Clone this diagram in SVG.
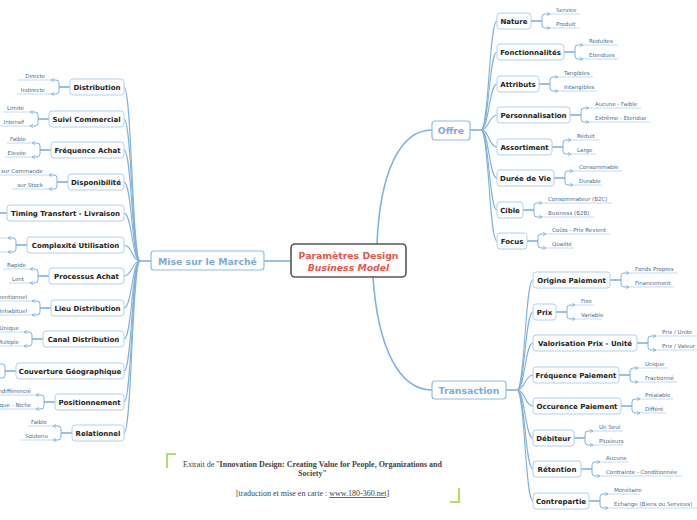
<svg xmlns="http://www.w3.org/2000/svg" width="697" height="520" viewBox="0 0 697 520">
<style>
.bg{fill:#fff}
.ln{fill:none;stroke:#80b1dc;stroke-width:1.1}
.tr{fill:none;stroke:#80b1dc;stroke-width:1.6}
.ul{fill:none;stroke:#bcd6ee;stroke-width:0.9}
.sc{fill:none;stroke:#80b1dc;stroke-width:1}
.box{fill:#fff;stroke:#b3d0ec;stroke-width:1}
.mbox{fill:#fff;stroke:#8fbbe3;stroke-width:1.2}
.cbox{fill:#fff;stroke:#555;stroke-width:1.6}
.t{font-family:"DejaVu Sans",Verdana,sans-serif;font-size:7px;font-weight:bold;fill:#222;text-anchor:middle}
.mt{font-family:"DejaVu Sans",Verdana,sans-serif;font-size:9.3px;font-weight:bold;fill:#7eaad7;text-anchor:middle}
.ct{font-family:"DejaVu Sans",Verdana,sans-serif;font-size:9.3px;font-weight:bold;fill:#e8564a;text-anchor:middle}
.s{font-family:"DejaVu Sans",Verdana,sans-serif;font-size:5.5px;fill:#4a6a8a}
.e{text-anchor:end}
.ft{font-family:"Liberation Serif","Times New Roman",serif;font-size:8px;fill:#444;text-anchor:middle}
.gc{fill:none;stroke:#b2dc6e;stroke-width:2}
</style>
<defs>
<marker id="ar" viewBox="0 0 6 6" refX="5" refY="3" markerWidth="4" markerHeight="4" orient="auto" markerUnits="userSpaceOnUse">
<path d="M0.5,0.5 L5,3 L0.5,5.5" fill="none" stroke="#80b1dc" stroke-width="1.1"/>
</marker>
</defs>
<rect class="bg" x="0" y="0" width="697" height="520"/>

<g id="connectors">
<!-- center -->
<path class="tr" d="M264,261 H291"/>
<path class="tr" d="M377,244 C380,172 400,130 432,130"/>
<path class="tr" d="M373,277 C378,350 400,390 432,390"/>
<!-- left trunk -->
<path class="tr" d="M151,261 H140"/>
<path class="ln" d="M140,261 C132,261 132,87 124,87"/>
<path class="ln" d="M140,261 C132,261 132,119 124,119"/>
<path class="ln" d="M140,261 C132,261 132,150 124,150"/>
<path class="ln" d="M140,261 C132,261 132,182 124,182"/>
<path class="ln" d="M140,261 C132,261 132,213 124,213"/>
<path class="ln" d="M140,261 C132,261 132,245 124,245"/>
<path class="ln" d="M140,261 C132,261 132,276 124,276"/>
<path class="ln" d="M140,261 C132,261 132,308 124,308"/>
<path class="ln" d="M140,261 C132,261 132,339 124,339"/>
<path class="ln" d="M140,261 C132,261 132,371 124,371"/>
<path class="ln" d="M140,261 C132,261 132,402 124,402"/>
<path class="ln" d="M140,261 C132,261 132,433 124,433"/>
<!-- offre trunk -->
<path class="tr" d="M470,130 H481"/>
<path class="ln" d="M481,130 C489,130 489,21 497,21"/>
<path class="ln" d="M481,130 C489,130 489,52 497,52"/>
<path class="ln" d="M481,130 C489,130 489,84 497,84"/>
<path class="ln" d="M481,130 C489,130 489,115 497,115"/>
<path class="ln" d="M481,130 C489,130 489,147 497,147"/>
<path class="ln" d="M481,130 C489,130 489,178 497,178"/>
<path class="ln" d="M481,130 C489,130 489,210 497,210"/>
<path class="ln" d="M481,130 C489,130 489,241 497,241"/>
<!-- transaction trunk -->
<path class="tr" d="M506,390 H517"/>
<path class="ln" d="M517,390 C525,390 525,280 533,280"/>
<path class="ln" d="M517,390 C525,390 525,312 533,312"/>
<path class="ln" d="M517,390 C525,390 525,343 533,343"/>
<path class="ln" d="M517,390 C525,390 525,375 533,375"/>
<path class="ln" d="M517,390 C525,390 525,406 533,406"/>
<path class="ln" d="M517,390 C525,390 525,438 533,438"/>
<path class="ln" d="M517,390 C525,390 525,469 533,469"/>
<path class="ln" d="M517,390 C525,390 525,501 533,501"/>

<!-- left sub connectors -->
<path class="tr" d="M70,87 H59"/><path class="sc" marker-end="url(#ar)" d="M59,87 V83 Q59,80 56,80 H51"/><path class="sc" marker-end="url(#ar)" d="M59,87 V91 Q59,94 56,94 H51"/>
<path class="ul" d="M51,80 H18 M51,94 H17"/>
<path class="tr" d="M49,119 H38"/><path class="sc" marker-end="url(#ar)" d="M38,119 V115 Q38,112 35,112 H30"/><path class="sc" marker-end="url(#ar)" d="M38,119 V123 Q38,126 35,126 H30"/>
<path class="ul" d="M30,112 H3 M30,126 H-1"/>
<path class="tr" d="M51,150 H40"/><path class="sc" marker-end="url(#ar)" d="M40,150 V146 Q40,143 37,143 H32"/><path class="sc" marker-end="url(#ar)" d="M40,150 V154 Q40,157 37,157 H32"/>
<path class="ul" d="M32,143 H7 M32,157 H5"/>
<path class="tr" d="M68,182 H57"/><path class="sc" marker-end="url(#ar)" d="M57,182 V178 Q57,175 54,175 H49"/><path class="sc" marker-end="url(#ar)" d="M57,182 V186 Q57,189 54,189 H49"/>
<path class="ul" d="M49,175 H-4 M49,189 H12"/>
<path class="tr" d="M7,213 H-4"/>
<path class="tr" d="M27,245 H16"/><path class="sc" marker-end="url(#ar)" d="M16,245 V241 Q16,238 13,238 H8"/><path class="sc" marker-end="url(#ar)" d="M16,245 V249 Q16,252 13,252 H8"/>
<path class="ul" d="M8,238 H-10 M8,252 H-10"/>
<path class="tr" d="M49,276 H38"/><path class="sc" marker-end="url(#ar)" d="M38,276 V272 Q38,269 35,269 H30"/><path class="sc" marker-end="url(#ar)" d="M38,276 V280 Q38,283 35,283 H30"/>
<path class="ul" d="M30,269 H3 M30,283 H9"/>
<path class="tr" d="M51,308 H40"/><path class="sc" marker-end="url(#ar)" d="M40,308 V304 Q40,301 37,301 H32"/><path class="sc" marker-end="url(#ar)" d="M40,308 V312 Q40,315 37,315 H32"/>
<path class="ul" d="M32,301 H-20 M32,315 H-4"/>
<path class="tr" d="M43,339 H32"/><path class="sc" marker-end="url(#ar)" d="M32,339 V335 Q32,332 29,332 H24"/><path class="sc" marker-end="url(#ar)" d="M32,339 V343 Q32,346 29,346 H24"/>
<path class="ul" d="M24,332 H-4 M24,346 H-4"/>
<path class="tr" d="M16,371 H5"/><path class="sc" marker-end="url(#ar)" d="M5,371 V367 Q5,364 2,364 H-3"/><path class="sc" marker-end="url(#ar)" d="M5,371 V375 Q5,378 2,378 H-3"/>
<path class="tr" d="M55,402 H44"/><path class="sc" marker-end="url(#ar)" d="M44,402 V398 Q44,395 41,395 H36"/><path class="sc" marker-end="url(#ar)" d="M44,402 V406 Q44,409 41,409 H36"/>
<path class="ul" d="M36,395 H-15 M36,409 H-20"/>
<path class="tr" d="M72,433 H61"/><path class="sc" marker-end="url(#ar)" d="M61,433 V429 Q61,426 58,426 H53"/><path class="sc" marker-end="url(#ar)" d="M61,433 V437 Q61,440 58,440 H53"/>
<path class="ul" d="M53,426 H28 M53,440 H21"/>

<!-- right sub connectors: offre -->
<path class="tr" d="M531,21 H542"/><path class="sc" marker-end="url(#ar)" d="M542,21 V17 Q542,14 545,14 H550"/><path class="sc" marker-end="url(#ar)" d="M542,21 V25 Q542,28 545,28 H550"/>
<path class="ul" d="M550,14 H580 M550,28 H580"/>
<path class="tr" d="M564,52 H575"/><path class="sc" marker-end="url(#ar)" d="M575,52 V48 Q575,45 578,45 H583"/><path class="sc" marker-end="url(#ar)" d="M575,52 V56 Q575,59 578,59 H583"/>
<path class="ul" d="M583,45 H618 M583,59 H618"/>
<path class="tr" d="M539,84 H550"/><path class="sc" marker-end="url(#ar)" d="M550,84 V80 Q550,77 553,77 H558"/><path class="sc" marker-end="url(#ar)" d="M550,84 V88 Q550,91 553,91 H558"/>
<path class="ul" d="M558,77 H593 M558,91 H596"/>
<path class="tr" d="M570,115 H581"/><path class="sc" marker-end="url(#ar)" d="M581,115 V111 Q581,108 584,108 H589"/><path class="sc" marker-end="url(#ar)" d="M581,115 V119 Q581,122 584,122 H589"/>
<path class="ul" d="M589,108 H641 M589,122 H650"/>
<path class="tr" d="M552,147 H563"/><path class="sc" marker-end="url(#ar)" d="M563,147 V143 Q563,140 566,140 H571"/><path class="sc" marker-end="url(#ar)" d="M563,147 V151 Q563,154 566,154 H571"/>
<path class="ul" d="M571,140 H600 M571,154 H596"/>
<path class="tr" d="M554,178 H565"/><path class="sc" marker-end="url(#ar)" d="M565,178 V174 Q565,171 568,171 H573"/><path class="sc" marker-end="url(#ar)" d="M565,178 V182 Q565,185 568,185 H573"/>
<path class="ul" d="M573,171 H622 M573,185 H602"/>
<path class="tr" d="M523,210 H534"/><path class="sc" marker-end="url(#ar)" d="M534,210 V206 Q534,203 537,203 H542"/><path class="sc" marker-end="url(#ar)" d="M534,210 V214 Q534,217 537,217 H542"/>
<path class="ul" d="M542,203 H612 M542,217 H594"/>
<path class="tr" d="M527,241 H538"/><path class="sc" marker-end="url(#ar)" d="M538,241 V237 Q538,234 541,234 H546"/><path class="sc" marker-end="url(#ar)" d="M538,241 V245 Q538,248 541,248 H546"/>
<path class="ul" d="M546,234 H610 M546,248 H574"/>
<!-- right sub connectors: transaction -->
<path class="tr" d="M610,280 H621"/><path class="sc" marker-end="url(#ar)" d="M621,280 V276 Q621,273 624,273 H629"/><path class="sc" marker-end="url(#ar)" d="M621,280 V284 Q621,287 624,287 H629"/>
<path class="ul" d="M629,273 H677 M629,287 H674"/>
<path class="tr" d="M556,312 H567"/><path class="sc" marker-end="url(#ar)" d="M567,312 V308 Q567,305 570,305 H575"/><path class="sc" marker-end="url(#ar)" d="M567,312 V316 Q567,319 570,319 H575"/>
<path class="ul" d="M575,305 H594 M575,319 H602"/>
<path class="tr" d="M637,343 H648"/><path class="sc" marker-end="url(#ar)" d="M648,343 V339 Q648,336 651,336 H656"/><path class="sc" marker-end="url(#ar)" d="M648,343 V347 Q648,350 651,350 H656"/>
<path class="ul" d="M656,336 H697 M656,350 H700"/>
<path class="tr" d="M619,375 H630"/><path class="sc" marker-end="url(#ar)" d="M630,375 V371 Q630,368 633,368 H638"/><path class="sc" marker-end="url(#ar)" d="M630,375 V379 Q630,382 633,382 H638"/>
<path class="ul" d="M638,368 H668 M638,382 H677"/>
<path class="tr" d="M621,406 H632"/><path class="sc" marker-end="url(#ar)" d="M632,406 V402 Q632,399 635,399 H640"/><path class="sc" marker-end="url(#ar)" d="M632,406 V410 Q632,413 635,413 H640"/>
<path class="ul" d="M640,399 H673 M640,413 H666"/>
<path class="tr" d="M574,438 H585"/><path class="sc" marker-end="url(#ar)" d="M585,438 V434 Q585,431 588,431 H593"/><path class="sc" marker-end="url(#ar)" d="M585,438 V442 Q585,445 588,445 H593"/>
<path class="ul" d="M593,431 H623 M593,445 H623"/>
<path class="tr" d="M581,469 H592"/><path class="sc" marker-end="url(#ar)" d="M592,469 V465 Q592,462 595,462 H600"/><path class="sc" marker-end="url(#ar)" d="M592,469 V473 Q592,476 595,476 H600"/>
<path class="ul" d="M600,462 H628 M600,476 H682"/>
<path class="tr" d="M589,501 H600"/><path class="sc" marker-end="url(#ar)" d="M600,501 V497 Q600,494 603,494 H608"/><path class="sc" marker-end="url(#ar)" d="M600,501 V505 Q600,508 603,508 H608"/>
<path class="ul" d="M608,494 H640 M608,508 H697"/>
</g>

<g id="center"><rect class="cbox" x="291" y="244" width="115" height="33" rx="4"/><text class="ct" x="348.5" y="258.5">Paramètres Design</text><text class="ct" x="348.5" y="270.5" font-style="italic">Business Model</text></g>
<g id="mise"><rect class="mbox" x="151" y="251" width="113" height="19" rx="3"/><text class="mt" x="207.5" y="264.5">Mise sur le Marché</text></g>
<g id="offre"><rect class="mbox" x="432" y="121" width="38" height="19" rx="3"/><text class="mt" x="451" y="134">Offre</text></g>
<g id="transaction"><rect class="mbox" x="432" y="381" width="74" height="18" rx="3"/><text class="mt" x="469" y="393.5">Transaction</text></g>

<g id="distribution"><rect class="box" x="70" y="79" width="54" height="16" rx="3"/><text class="t" x="97" y="89.5">Distribution</text><text class="s e" x="45" y="78">Directe</text><text class="s e" x="45" y="92">Indirecte</text></g>
<g id="suivi"><rect class="box" x="49" y="111" width="75" height="16" rx="3"/><text class="t" x="86.5" y="121.5">Suivi Commercial</text><text class="s e" x="24" y="110">Limité</text><text class="s e" x="24" y="124">Intensif</text></g>
<g id="frequence-achat"><rect class="box" x="51" y="142" width="73" height="16" rx="3"/><text class="t" x="87.5" y="152.5">Fréquence Achat</text><text class="s e" x="26" y="141">Faible</text><text class="s e" x="26" y="155">Elevée</text></g>
<g id="disponibilite"><rect class="box" x="68" y="174" width="56" height="16" rx="3"/><text class="t" x="96" y="184.5">Disponibilité</text><text class="s e" x="43" y="173">sur Commande</text><text class="s e" x="43" y="187">sur Stock</text></g>
<g id="timing"><rect class="box" x="7" y="205" width="117" height="16" rx="3"/><text class="t" x="65.5" y="215.5">Timing Transfert - Livraison</text></g>
<g id="complexite"><rect class="box" x="27" y="237" width="97" height="16" rx="3"/><text class="t" x="75.5" y="247.5">Complexité Utilisation</text></g>
<g id="processus"><rect class="box" x="49" y="268" width="75" height="16" rx="3"/><text class="t" x="86.5" y="278.5">Processus Achat</text><text class="s e" x="26" y="267">Rapide</text><text class="s e" x="24" y="281">Lent</text></g>
<g id="lieu"><rect class="box" x="51" y="300" width="73" height="16" rx="3"/><text class="t" x="87.5" y="310.5">Lieu Distribution</text><text class="s e" x="27" y="299">Conventionnel</text><text class="s e" x="27" y="313">Inhabituel</text></g>
<g id="canal"><rect class="box" x="43" y="331" width="81" height="16" rx="3"/><text class="t" x="83.5" y="341.5">Canal Distribution</text><text class="s e" x="19" y="330">Unique</text><text class="s e" x="19" y="344">Multiple</text></g>
<g id="couverture"><rect class="box" x="16" y="363" width="108" height="16" rx="3"/><text class="t" x="70" y="373.5">Couverture Géographique</text></g>
<g id="positionnement"><rect class="box" x="55" y="394" width="69" height="16" rx="3"/><text class="t" x="89.5" y="404.5">Positionnement</text><text class="s e" x="31" y="393">Indifférencié</text><text class="s e" x="31" y="407">Unique - Niche</text></g>
<g id="relationnel"><rect class="box" x="72" y="425" width="52" height="16" rx="3"/><text class="t" x="98" y="435.5">Relationnel</text><text class="s e" x="47" y="424">Faible</text><text class="s e" x="48" y="438">Soutenu</text></g>

<g id="nature"><rect class="box" x="497" y="13" width="34" height="16" rx="3"/><text class="t" x="514" y="23.5">Nature</text><text class="s" x="556" y="12">Service</text><text class="s" x="556" y="26">Produit</text></g>
<g id="fonctionnalites"><rect class="box" x="497" y="44" width="67" height="16" rx="3"/><text class="t" x="530.5" y="54.5">Fonctionnalités</text><text class="s" x="589" y="43">Réduites</text><text class="s" x="589" y="57">Etendues</text></g>
<g id="attributs"><rect class="box" x="497" y="76" width="42" height="16" rx="3"/><text class="t" x="518" y="86.5">Attributs</text><text class="s" x="564" y="75">Tangibles</text><text class="s" x="564" y="89">Intangibles</text></g>
<g id="personnalisation"><rect class="box" x="497" y="107" width="73" height="16" rx="3"/><text class="t" x="533.5" y="117.5">Personnalisation</text><text class="s" x="595" y="106">Aucune - Faible</text><text class="s" x="595" y="120">Extrême - Etendue</text></g>
<g id="assortiment"><rect class="box" x="497" y="139" width="55" height="16" rx="3"/><text class="t" x="524.5" y="149.5">Assortiment</text><text class="s" x="577" y="138">Réduit</text><text class="s" x="577" y="152">Large</text></g>
<g id="duree"><rect class="box" x="497" y="170" width="57" height="16" rx="3"/><text class="t" x="525.5" y="180.5">Durée de Vie</text><text class="s" x="579" y="169">Consommable</text><text class="s" x="579" y="183">Durable</text></g>
<g id="cible"><rect class="box" x="497" y="202" width="26" height="16" rx="3"/><text class="t" x="510" y="212.5">Cible</text><text class="s" x="548" y="201">Consommateur (B2C)</text><text class="s" x="548" y="215">Business (B2B)</text></g>
<g id="focus"><rect class="box" x="497" y="233" width="30" height="16" rx="3"/><text class="t" x="512" y="243.5">Focus</text><text class="s" x="552" y="232">Coûts - Prix Revient</text><text class="s" x="552" y="246">Qualité</text></g>

<g id="origine"><rect class="box" x="533" y="272" width="77" height="16" rx="3"/><text class="t" x="571.5" y="282.5">Origine Paiement</text><text class="s" x="635" y="271">Fonds Propres</text><text class="s" x="635" y="285">Financement</text></g>
<g id="prix"><rect class="box" x="533" y="304" width="23" height="16" rx="3"/><text class="t" x="544.5" y="314.5">Prix</text><text class="s" x="581" y="303">Fixe</text><text class="s" x="581" y="317">Variable</text></g>
<g id="valorisation"><rect class="box" x="533" y="335" width="104" height="16" rx="3"/><text class="t" x="585" y="345.5">Valorisation Prix - Unité</text><text class="s" x="662" y="334">Prix / Unité</text><text class="s" x="662" y="348">Prix / Valeur</text></g>
<g id="frequence-paiement"><rect class="box" x="533" y="367" width="86" height="16" rx="3"/><text class="t" x="576" y="377.5">Fréquence Paiement</text><text class="s" x="645" y="366">Unique</text><text class="s" x="645" y="380">Fractionné</text></g>
<g id="occurence"><rect class="box" x="533" y="398" width="88" height="16" rx="3"/><text class="t" x="577" y="408.5">Occurence Paiement</text><text class="s" x="645" y="397">Préalable</text><text class="s" x="645" y="411">Différé</text></g>
<g id="debiteur"><rect class="box" x="533" y="430" width="41" height="16" rx="3"/><text class="t" x="553.5" y="440.5">Débiteur</text><text class="s" x="599" y="429">Un Seul</text><text class="s" x="599" y="443">Plusieurs</text></g>
<g id="retention"><rect class="box" x="533" y="461" width="48" height="16" rx="3"/><text class="t" x="557" y="471.5">Rétention</text><text class="s" x="606" y="460">Aucune</text><text class="s" x="606" y="474">Contrainte - Conditionnée</text></g>
<g id="contrepartie"><rect class="box" x="533" y="493" width="56" height="16" rx="3"/><text class="t" x="561" y="503.5">Contrepartie</text><text class="s" x="614" y="492">Monétaire</text><text class="s" x="614" y="506">Echange (Biens ou Services)</text></g>

<g id="note">
<path class="gc" d="M167,468 V454 H176"/>
<path class="gc" d="M450,502 H459 V488"/>
<text class="ft" x="312.5" y="466.5">Extrait de "<tspan font-weight="bold">Innovation Design: Creating Value for People, Organizations and</tspan></text>
<text class="ft" x="312.5" y="476" font-weight="bold">Society"</text>
<text class="ft" x="312.5" y="496">[traduction et mise en carte : <tspan text-decoration="underline">www.180-360.net</tspan>]</text>
</g>
</svg>
